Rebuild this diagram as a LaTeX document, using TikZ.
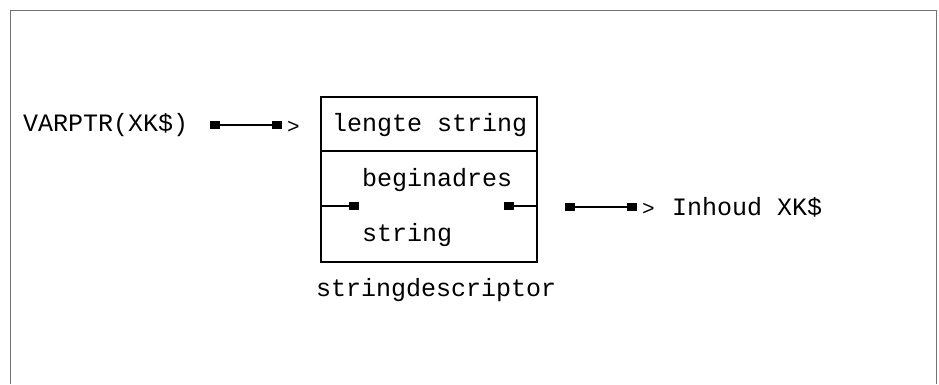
\documentclass[tikz,border=0pt]{standalone}
\usepackage{fontspec}
\setmonofont{Liberation Mono}
\begin{document}
\begin{tikzpicture}[x=1pt,y=-1pt,
  txt/.style={font=\ttfamily\fontsize{25}{30}\selectfont, inner sep=0pt, anchor=west},
  gt/.style={font=\ttfamily\fontsize{21}{24}\selectfont, inner sep=0pt, anchor=west},
  sq/.style={fill=black, draw=none, minimum width=10pt, minimum height=8pt, inner sep=0pt},
  frame/.style={draw=black!55, line width=1pt},
  boxline/.style={draw=black, line width=2.2pt},
  conn/.style={draw=black, line width=1.6pt}]
\useasboundingbox (0,0) rectangle (939,384);
% frame
\draw[frame] (10,384) -- (10,10) -- (936,10) -- (936,384);
% left label and pointer
\node[txt] (varptr) at (23,125) {VARPTR(XK\$)};
\node[sq] (s1) at (215,125) {};
\node[sq] (s2) at (277,125) {};
\draw[conn] (s1) -- (s2);
\node[gt] (gt1) at (287,127) {>};
% descriptor box
\coordinate (btl) at (321,97);
\coordinate (bbr) at (537,262);
\draw[boxline] (btl) rectangle (bbr);
\coordinate (dl) at (321,151);
\coordinate (dr) at (537,151);
\draw[boxline] (dl) -- (dr);
\node[txt] (len) at (332,125) {lengte string};
\node[txt] (beg) at (362,180) {beginadres};
\node[txt] (str) at (362,235) {string};
\coordinate (bl) at (321,206);
\coordinate (br) at (537,206);
\node[sq] (s3) at (354,206) {};
\node[sq] (s4) at (509,206) {};
\draw[conn] (bl) -- (s3);
\draw[conn] (s4) -- (br);
\node[txt] (desc) at (316,290) {stringdescriptor};
% right pointer
\node[sq] (s5) at (570,207) {};
\node[sq] (s6) at (632,207) {};
\draw[conn] (s5) -- (s6);
\node[gt] (gt2) at (642,209) {>};
\node[txt] (inh) at (672,207) {Inhoud XK\$};
\end{tikzpicture}
\end{document}
